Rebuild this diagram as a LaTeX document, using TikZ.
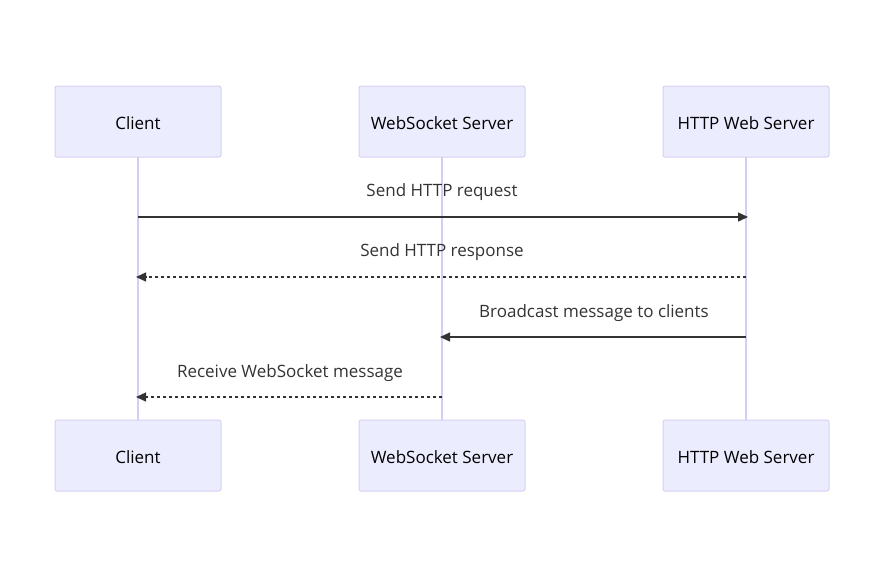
\documentclass[tikz,border=0pt]{standalone}
\usepackage{fontspec}
\setmainfont{Open Sans}
\usetikzlibrary{arrows.meta}
\definecolor{actorfill}{HTML}{ECECFF}
\definecolor{actorline}{HTML}{D8D0F2}
\definecolor{lifeline}{HTML}{D6CCF4}
\definecolor{msgline}{HTML}{333333}
\begin{document}
\begin{tikzpicture}[x=1pt, y=-1pt,
        actor/.style={rectangle, rounded corners=2pt, draw=actorline, fill=actorfill, line width=1pt,
            minimum width=166pt, minimum height=71pt, inner sep=0pt, text height=16pt, text depth=0pt,
            font=\fontsize{17}{20}\selectfont, text=black},
        life/.style={draw=lifeline, line width=1.6pt},
        msg/.style={draw=msgline, line width=1.3pt, -{Triangle[length=10pt, width=9pt]}},
        reply/.style={msg, dash pattern=on 3pt off 3pt},
        msglabel/.style={font=\fontsize{17}{20}\selectfont, text=msgline, inner sep=0pt},
    ]
    \useasboundingbox (0,0) rectangle (885,579);

	% lifelines
	\draw[life] (138,157) -- (138,420);
	\draw[life] (442,157) -- (442,420);
	\draw[life] (746,157) -- (746,420);

	\node[actor] (client_t) at (138,121.5) {Client};
	\node[actor] (ws_t) at (442,121.5) {WebSocket Server};
	\node[actor] (http_t) at (746,121.5) {HTTP Web Server};
	\node[actor] (client_b) at (138,455.5) {Client};
	\node[actor] (ws_b) at (442,455.5) {WebSocket Server};
	\node[actor] (http_b) at (746,455.5) {HTTP Web Server};

	\coordinate (client_1) at (138,217);
	\coordinate (http_1) at (748,217);
	\coordinate (http_2) at (746,277);
	\coordinate (client_2) at (136,277);
	\coordinate (http_3) at (746,337);
	\coordinate (ws_3) at (440,337);
	\coordinate (ws_4) at (442,397);
	\coordinate (client_4) at (136,397);

	\draw[msg] (client_1) -- (http_1);
	\draw[reply] (http_2) -- (client_2);
	\draw[msg] (http_3) -- (ws_3);
	\draw[reply] (ws_4) -- (client_4);

	\node[msglabel] (lbl_1) at (442,192.5) {Send HTTP request};
	\node[msglabel] (lbl_2) at (442,252.5) {Send HTTP response};
	\node[msglabel] (lbl_3) at (594,313.5) {Broadcast message to clients};
	\node[msglabel] (lbl_4) at (290,373.5) {Receive WebSocket message};

    \end{tikzpicture}
\end{document}
